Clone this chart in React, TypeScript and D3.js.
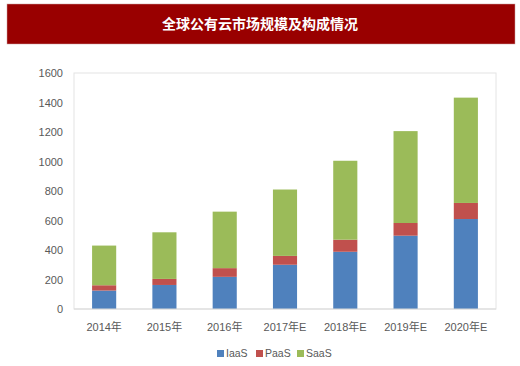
import React from "react";
import * as d3 from "d3";

const categories = ["2014年", "2015年", "2016年", "2017年E", "2018年E", "2019年E", "2020年E"];
const iaas = [125, 163, 218, 300, 388, 497, 610];
const paas = [36, 41, 59, 60, 82, 86, 109];
const saas = [269, 316, 383, 450, 535, 623, 714];
const seriesNames = ["IaaS", "PaaS", "SaaS"];
const seriesColors = ["#4F81BD", "#C0504D", "#9BBB59"];
const yTicks = [0, 200, 400, 600, 800, 1000, 1200, 1400, 1600];

const title = "全球公有云市场规模及构成情况";
const font = "'Liberation Sans', 'Noto Sans CJK SC', sans-serif";

export default function App() {
  const width = 520;
  const height = 366;
  const plot = { left: 74, right: 496, top: 73, bottom: 309 };

  const rows = categories.map((c, i) => ({ cat: c, IaaS: iaas[i], PaaS: paas[i], SaaS: saas[i] }));
  const stacked = d3.stack<any>().keys(seriesNames)(rows);

  const x = d3.scaleBand().domain(categories).range([plot.left, plot.right]).paddingInner(0.6).paddingOuter(0.3);
  const y = d3.scaleLinear().domain([0, 1600]).range([plot.bottom, plot.top]);

  // legend spots, Excel-style row under the chart
  const legendX = [217, 256, 297];

  return (
    <svg width={width} height={height} style={{ position: "absolute", left: 0, top: 0, background: "#fff" }}>
      <rect x={7} y={4} width={508} height={40} fill="#990000" stroke="#c9a0a0" strokeWidth={0.5} />
      <text x={260} y={29} textAnchor="middle" fill="#fff" fontSize={14} fontWeight="bold" fontFamily="'Noto Sans CJK SC', sans-serif">
        {title}
      </text>

      <rect x={plot.left} y={plot.top} width={plot.right - plot.left} height={plot.bottom - plot.top} fill="none" stroke="#e4e4e4" strokeWidth={1} />

      {stacked.map((layer, si) => (
        <g key={layer.key} fill={seriesColors[si]}>
          {layer.map((d, i) => (
            <rect
              key={i}
              x={x(categories[i])}
              y={y(d[1])}
              width={x.bandwidth()}
              height={y(d[0]) - y(d[1])}
            />
          ))}
        </g>
      ))}

      <line x1={plot.left} x2={plot.right} y1={plot.bottom} y2={plot.bottom} stroke="#d9d9d9" />

      {yTicks.map((t) => (
        <text key={t} x={63} y={y(t) + 4} textAnchor="end" fontSize={11} fill="#595959" fontFamily={font}>
          {t}
        </text>
      ))}

      {categories.map((c) => (
        <text key={c} x={(x(c) ?? 0) + x.bandwidth() / 2} y={331} textAnchor="middle" fontSize={11} fill="#595959" fontFamily={font}>
          {c}
        </text>
      ))}

      {seriesNames.map((s, i) => (
        <g key={s} transform={`translate(${legendX[i]}, 357)`}>
          <rect x={0} y={-7} width={7} height={7} fill={seriesColors[i]} />
          <text x={9} y={0} fontSize={10.5} fill="#595959" fontFamily={font}>
            {s}
          </text>
        </g>
      ))}
    </svg>
  );
}
